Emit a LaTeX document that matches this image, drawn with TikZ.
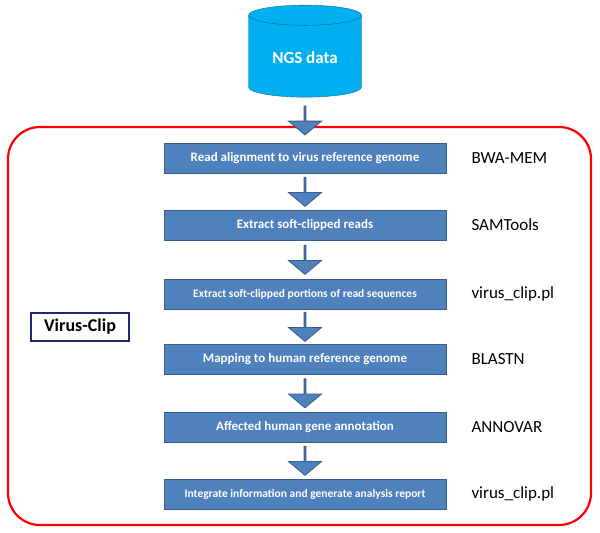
\documentclass[tikz,border=0pt]{standalone}
\usepackage{fontspec}
\setmainfont{Carlito}
\usetikzlibrary{shapes.geometric,shapes.arrows,positioning,calc}
\definecolor{stepblue}{HTML}{4F81BD}
\definecolor{stepedge}{HTML}{385D8A}
\definecolor{dbcyan}{HTML}{00B0F0}
\definecolor{dbedge}{HTML}{1F5F8B}
\definecolor{navy}{HTML}{1F2A6E}
\tikzset{
  stage/.style={rectangle, draw=stepedge, fill=stepblue, text=white, font=\fontsize{13}{15}\selectfont\bfseries,
    minimum width=282pt, minimum height=30pt, inner sep=0pt},
  tool/.style={anchor=west, font=\fontsize{17}{19}\selectfont},
  down/.style={single arrow, draw=stepedge, line width=0.8pt, fill=stepblue, rotate=-90,
    minimum width=33pt, single arrow head extend=7pt, single arrow tip angle=100,
    minimum height=29pt, inner sep=0pt}
}
\begin{document}
\begin{tikzpicture}[x=1pt,y=1pt]
\useasboundingbox (0,0) rectangle (600,-533);
\draw [red, line width=2.2pt, rounded corners=32pt] (8,-127) rectangle (591,-525);
\node [cylinder, shape border rotate=90, draw=dbedge, fill=dbcyan, aspect=0.28,
  minimum width=113pt, minimum height=92pt, text=white, font=\fontsize{17}{19}\selectfont\bfseries] (ngs) at (305,-58) {NGS data};
% stages
\node [stage] (s1) at (305,-158) {Read alignment to virus reference genome};
\node [stage] (s2) at (305,-225) {Extract soft-clipped reads};
\node [stage, font=\fontsize{11.5}{13}\selectfont\bfseries] (s3) at (305,-294) {Extract soft-clipped portions of read sequences};
\node [stage] (s4) at (305,-359) {Mapping to human reference genome};
\node [stage] (s5) at (305,-427) {Affected human gene annotation};
\node [stage, font=\fontsize{11.5}{13}\selectfont\bfseries] (s6) at (305,-494) {Integrate information and generate analysis report};
% tools
\node [tool] (t1) at (468,-158) {BWA-MEM};
\node [tool] (t2) at (468,-225) {SAMTools};
\node [tool] (t3) at (468,-294) {virus\_clip.pl};
\node [tool] (t4) at (468,-359) {BLASTN};
\node [tool] (t5) at (468,-427) {ANNOVAR};
\node [tool] (t6) at (468,-494) {virus\_clip.pl};
% arrows
\node [down] (a0) at ($(ngs.south)!0.5!(s1.north)$) {};
\foreach \i/\j in {1/2,2/3,3/4,4/5,5/6}
  \node [down] (a\i) at ($(s\i.south)!0.5!(s\j.north)$) {};
\node [draw=navy, line width=1.8pt, fill=white, font=\fontsize{18}{20}\selectfont\bfseries,
  minimum width=98pt, minimum height=28pt] (vc) at (80,-327) {Virus-Clip};
\end{tikzpicture}
\end{document}
